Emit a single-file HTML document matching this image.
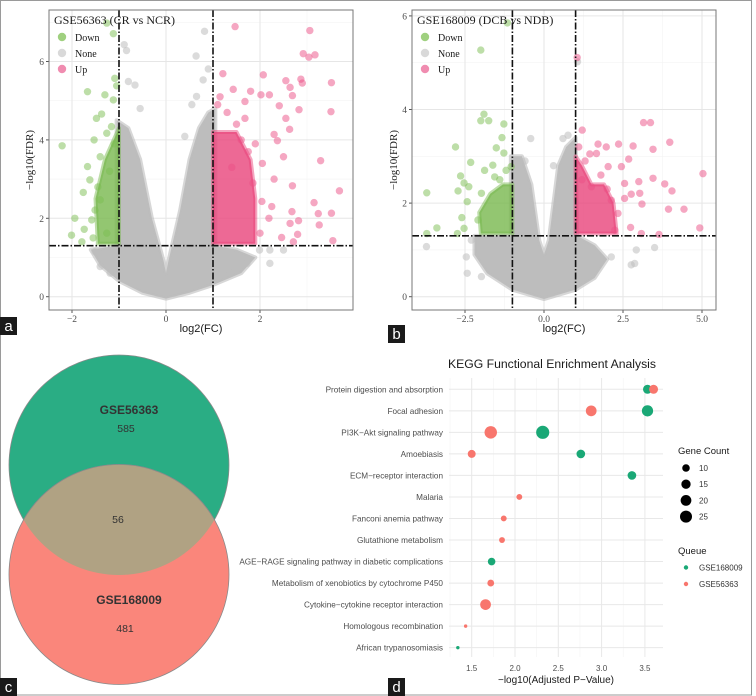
<!DOCTYPE html>
<html><head><meta charset="utf-8"><style>
body{margin:0;background:#fff;width:756px;height:696px;overflow:hidden}
svg{display:block}
.serif{font-family:"Liberation Serif",serif}
.sans{font-family:"Liberation Sans",sans-serif}
</style></head><body>
<svg id="fig" width="756" height="696" viewBox="0 0 756 696">
<rect x="0.5" y="0.5" width="751" height="694.5" fill="none" stroke="#9a9a9a"/>
</svg>
<script>
// ---------- Panel a data (log2FC, -log10 FDR) ----------
const aUpX=[1.47,3.06,2.92,3.04,3.17,3.52,2.55,2.87,2.9,2.64,2.69,2.07,1.80,2.02,2.2,2.41,2.83,3.51,2.55,2.63,2.3,2.37,2.5,3.29,2.69,3.69,2.3,2.05,3.15,3.24,3.52,3.26,2.68,2.82,2.64,3.55,2.8,2.46,2.71,2.19,2.0,1.68,1.43,1.21,1.68,2.04,2.25,1.1,1.3,1.5,1.6,1.75,1.9,1.15,1.4,1.85];
const aUpY=[6.89,6.79,6.2,6.11,6.17,5.46,5.51,5.55,5.45,5.34,5.13,5.66,5.24,5.15,5.15,4.87,4.77,4.72,4.55,4.27,4.14,3.98,3.57,3.47,2.83,2.70,3.0,3.4,2.4,2.12,2.13,1.83,2.17,1.94,1.87,1.43,1.59,1.51,1.4,2.0,1.62,4.55,5.29,5.69,4.98,2.43,2.3,4.9,4.7,4.4,4.0,3.7,3.9,5.1,3.3,2.9];
const aDownX=[-1.26,-1.12,-1.09,-1.05,-1.67,-1.3,-1.12,-1.48,-1.37,-2.21,-1.53,-1.67,-1.76,-1.94,-2.01,-1.74,-1.79,-1.51,-1.58,-1.62,-1.4,-1.26,-1.16,-1.4,-1.26,-1.1,-1.2,-1.45,-1.55];
const aDownY=[6.98,6.71,5.57,5.38,5.23,5.15,5.02,4.55,4.66,3.85,4.0,3.32,2.66,2.0,1.57,1.72,1.4,2.21,1.96,2.98,3.57,4.17,4.34,2.47,1.62,3.9,3.2,2.8,1.5];
const aNoneX=[-0.89,-0.84,0.82,0.64,0.9,0.79,-0.8,-0.66,0.65,0.4,-1.51,-1.4,2.5,2.21,1.72,1.36,2.21,-1.19,1.99,-0.55,0.55];
const aNoneY=[6.43,6.28,6.77,6.14,5.81,5.53,5.49,5.4,5.11,4.09,1.15,0.77,1.19,0.85,0.85,0.6,1.19,0.6,1.19,4.8,4.9];
const aCloudX=[-1.05,-0.8,-0.55,-0.3,-0.05,0,0.05,0.3,0.5,0.7,0.9,1.05,1.05,1.5,1.9,1.6,1.0,0.5,0,-0.5,-1.0,-1.4,-1.6,-1.05];
const aCloudY=[4.5,4.3,3.5,2.0,0.9,0.6,0.9,2.2,3.5,4.3,4.7,4.8,1.3,1.2,1.0,0.6,0.3,0.1,-0.05,0.1,0.4,0.8,1.2,1.3];
const aUpBlockX=[1.0,1.0,1.9,1.9,1.8,1.5];
const aUpBlockY=[4.2,1.35,1.35,2.5,3.5,4.2];
const aDownBlockX=[-1.0,-1.3,-1.5,-1.45,-1.0];
const aDownBlockY=[4.3,3.5,2.5,1.35,1.35];
const aXTicks=[-2,0,2];
const aYTicks=[0,2,4,6];
// ---------- Panel b data ----------
const bUpX=[1.05,3.15,3.37,1.21,3.98,5.03,3.45,2.36,2.82,2.68,1.71,1.97,1.45,1.66,2.03,2.45,3.45,3.0,2.55,3.82,4.05,3.94,4.43,4.93,3.1,3.03,2.76,2.55,2.74,3.08,3.64,2.34,2.13,2.24,1.5,1.1,1.3,1.8,2.0,1.2];
const bUpY=[5.11,3.72,3.72,3.56,3.3,2.63,3.15,3.26,3.22,2.94,3.26,3.2,3.05,3.06,2.78,2.78,2.53,2.46,2.42,2.41,2.26,1.87,1.87,1.47,1.98,2.21,2.19,2.1,1.48,1.35,1.33,1.78,2.06,1.42,2.35,3.2,2.9,2.6,2.3,2.5];
const bDownX=[-1.16,-2.0,-1.9,-2.0,-1.75,-1.27,-1.33,-1.51,-1.27,-2.8,-2.32,-2.64,-2.53,-3.71,-2.72,-2.43,-2.38,-2.6,-2.53,-3.39,-3.71,-2.74,-1.88,-1.62,-1.04,-1.98,-1.56,-2.09,-1.2,-1.4];
const bDownY=[5.85,5.27,3.9,3.76,3.76,3.69,3.4,3.18,3.07,3.2,2.87,2.58,2.43,2.22,2.26,2.03,2.35,1.69,1.46,1.47,1.35,1.35,2.7,2.81,2.78,2.21,2.56,1.64,2.7,2.5];
const bNoneX=[1.06,-0.42,0.6,0.76,-3.72,-2.46,-2.43,-1.98,3.5,2.92,2.76,2.87,2.13,-2.3,-0.6,0.3];
const bNoneY=[5.02,3.38,3.38,3.45,1.07,0.85,0.5,0.43,1.05,1.0,0.68,0.71,0.85,1.21,2.9,2.8];
const bCloudX=[-1.05,-0.7,-0.4,-0.15,0,0.15,0.45,0.7,1.0,1.05,1.6,2.0,1.6,1.0,0,-1.0,-1.8,-2.2,-2.2,-1.05];
const bCloudY=[3.0,3.0,2.4,1.2,0.9,1.2,2.8,3.2,3.4,1.3,1.1,0.8,0.4,0.15,-0.05,0.15,0.5,0.9,1.3,1.3];
const bUpBlockX=[1.0,1.0,2.3,2.2,1.9,1.5,1.2];
const bUpBlockY=[3.0,1.35,1.35,2.0,2.4,2.4,2.8];
const bDownBlockX=[-1.0,-1.0,-2.0,-2.05,-1.7,-1.3];
const bDownBlockY=[2.4,1.35,1.35,1.8,2.2,2.4];
const bXTicks=[-2.5,0,2.5,5];
const bYTicks=[0,2,4,6];
// ---------- Panel d (KEGG) data ----------
const keggTerms=["Protein digestion and absorption","Focal adhesion","PI3K\u2212Akt signaling pathway","Amoebiasis","ECM\u2212receptor interaction","Malaria","Fanconi anemia pathway","Glutathione metabolism","AGE\u2212RAGE signaling pathway in diabetic complications","Metabolism of xenobiotics by cytochrome P450","Cytokine\u2212cytokine receptor interaction","Homologous recombination","African trypanosomiasis"];
const keggRow=[0,0,1,1,2,2,3,3,4,5,6,7,8,9,10,11,12];
const keggVal=[3.53,3.6,3.53,2.88,2.32,1.72,2.76,1.5,3.35,2.05,1.87,1.85,1.73,1.72,1.66,1.43,1.34];
const keggCount=[14,14,22,20,30,27,13,11,13,6,6,6,10,8,20,2,2];
const keggQueue=["G","P","G","P","G","P","G","P","G","P","P","P","G","P","P","P","G"];
const keggTicks=[1.5,2.0,2.5,3.0,3.5];
const sizeLegend=[10,15,20,25];

const NS="http://www.w3.org/2000/svg";
const svg=document.getElementById('fig');
function mk(tag,attrs,parent){const e=document.createElementNS(NS,tag);for(const k in attrs)e.setAttribute(k,attrs[k]);(parent||svg).appendChild(e);return e;}
function txt(s,attrs,parent){const e=mk('text',attrs,parent);e.textContent=s;return e;}

function volcano(cfg){
  const g=mk('g',{});
  
  
  const sx=v=>cfg.x0+cfg.kx*v, sy=v=>cfg.y0-cfg.ky*v;
  const bg=mk('rect',{x:cfg.L,y:cfg.T,width:cfg.R-cfg.L,height:cfg.B-cfg.T,fill:'#fff'},g);
  
  
  cfg.minorX.forEach(v=>{const l=mk('line',{x1:sx(v),x2:sx(v),y1:cfg.T,y2:cfg.B,stroke:'#f3f3f3','stroke-width':0.6},g);
    
    });
  cfg.minorY.forEach(v=>{const l=mk('line',{x1:cfg.L,x2:cfg.R,y1:sy(v),y2:sy(v),stroke:'#f3f3f3','stroke-width':0.6},g);
    
    });
  cfg.xt.forEach(v=>{const l=mk('line',{x1:sx(v),x2:sx(v),y1:cfg.T,y2:cfg.B,stroke:'#e6e6e6','stroke-width':1},g);
    
    
    const t=mk('line',{x1:sx(v),x2:sx(v),y1:cfg.B,y2:cfg.B+3,stroke:'#555'},g);
    
    
    const lb=txt(String(cfg.dec?v.toFixed(1):v).replace('-','\u2212'),{x:sx(v),y:cfg.B+12,'text-anchor':'middle','font-size':9.5,fill:'#4d4d4d',class:'serif'},g);
    
    });
  cfg.yt.forEach(v=>{const l=mk('line',{x1:cfg.L,x2:cfg.R,y1:sy(v),y2:sy(v),stroke:'#e6e6e6','stroke-width':1},g);
    
    
    const t=mk('line',{x1:cfg.L-3,x2:cfg.L,y1:sy(v),y2:sy(v),stroke:'#555'},g);
    
    
    const lb=txt(String(v),{x:cfg.L-5,y:sy(v)+3.5,'text-anchor':'end','font-size':9.5,fill:'#4d4d4d',class:'serif'},g);
    
    });
  const poly=(xs,ys,fill,op,name)=>{const p=mk('polygon',{points:xs.map((x,i)=>sx(x)+','+sy(ys[i])).join(' '),fill:fill,'fill-opacity':op,stroke:fill,'stroke-opacity':op*0.6,'stroke-width':4,'stroke-linejoin':'round'},g);
    
    };
  poly(cfg.cloudX,cfg.cloudY,'#bdbdbd',1,'none-points-cloud');
  cfg.noneX.forEach((x,i)=>{const c=mk('circle',{cx:sx(x),cy:sy(cfg.noneY[i]),r:3.7,fill:'#bdbdbd','fill-opacity':0.55},g);
    
    });
  poly(cfg.downBX,cfg.downBY,'#78b84e',0.8,'down-points-cluster');
  poly(cfg.upBX,cfg.upBY,'#e8437a',0.8,'up-points-cluster');
  cfg.downX.forEach((x,i)=>{const c=mk('circle',{cx:sx(x),cy:sy(cfg.downY[i]),r:3.7,fill:'#7cbd52','fill-opacity':0.5},g);
    
    });
  cfg.upX.forEach((x,i)=>{const c=mk('circle',{cx:sx(x),cy:sy(cfg.upY[i]),r:3.7,fill:'#ec4f86','fill-opacity':0.5},g);
    
    });
  [-1,1].forEach(v=>{const l=mk('line',{x1:sx(v),x2:sx(v),y1:cfg.T,y2:cfg.B,stroke:'#111','stroke-width':1.6,'stroke-dasharray':'7,2,1.5,2'},g);
    
    });
  const h=mk('line',{x1:cfg.L,x2:cfg.R,y1:sy(1.301),y2:sy(1.301),stroke:'#111','stroke-width':1.6,'stroke-dasharray':'7,2,1.5,2'},g);
  
  
  const fr=mk('rect',{x:cfg.L,y:cfg.T,width:cfg.R-cfg.L,height:cfg.B-cfg.T,fill:'none',stroke:'#777','stroke-width':1},g);
  
  
  const tt=txt(cfg.title,{x:cfg.L+5,y:cfg.T+14,'font-size':12,fill:'#1a1a1a',class:'serif'},g);
  
  
  [['Down','#9fd07f'],['None','#d9d9d9'],['Up','#f08cb0']].forEach((e,i)=>{
    const c=mk('circle',{cx:cfg.L+13,cy:cfg.T+27+i*16,r:4.2,fill:e[1]},g);
    
    
    const t=txt(e[0],{x:cfg.L+26,y:cfg.T+31+i*16,'font-size':10,fill:'#1a1a1a',class:'serif'},g);
    
    });
  const xt=txt('log2(FC)',{x:(cfg.L+cfg.R)/2,y:332,'text-anchor':'middle','font-size':11,fill:'#1a1a1a',class:'sans'},g);
  
  
  const yt=txt('\u2212log10(FDR)',{x:0,y:0,transform:`translate(${cfg.ytx},${(cfg.T+cfg.B)/2}) rotate(-90)`,'text-anchor':'middle','font-size':11,fill:'#1a1a1a',class:'serif'},g);
  
  
}
volcano({name:'volcano-plot-a',L:49,R:353,T:10,B:310,x0:166,kx:47,y0:296.7,ky:39.2,xt:aXTicks,yt:aYTicks,minorX:[-1,1,3],minorY:[1,3,5,7],
  upX:aUpX,upY:aUpY,downX:aDownX,downY:aDownY,noneX:aNoneX,noneY:aNoneY,cloudX:aCloudX,cloudY:aCloudY,upBX:aUpBlockX,upBY:aUpBlockY,downBX:aDownBlockX,downBY:aDownBlockY,
  title:'GSE56363 (CR vs NCR)',ytx:33});
volcano({name:'volcano-plot-b',L:412,R:716,T:10,B:310,x0:544,kx:31.6,y0:296.7,ky:46.8,xt:bXTicks,yt:bYTicks,minorX:[-1.25,1.25,3.75],minorY:[1,3,5],dec:true,
  upX:bUpX,upY:bUpY,downX:bDownX,downY:bDownY,noneX:bNoneX,noneY:bNoneY,cloudX:bCloudX,cloudY:bCloudY,upBX:bUpBlockX,upBY:bUpBlockY,downBX:bDownBlockX,downBY:bDownBlockY,
  title:'GSE168009 (DCB vs NDB)',ytx:397});

// ---------- Venn (panel c) ----------
const vg=mk('g',{});


const cg=mk('circle',{cx:119,cy:465,r:110,fill:'#2aad84',stroke:'#8a8a8a','stroke-width':0.8},vg);


const cp=mk('circle',{cx:119,cy:574.5,r:110,fill:'#fa867b',stroke:'#8a8a8a','stroke-width':0.8},vg);


const cl=mk('clipPath',{id:'clipG'},vg);mk('circle',{cx:119,cy:465,r:110},cl);
const ov=mk('circle',{cx:119,cy:574.5,r:110,fill:'#b0a283',stroke:'#8a8a8a','stroke-width':0.8,'clip-path':'url(#clipG)'},vg);


[['GSE56363',129,414,true,'venn-label-gse56363'],['585',126,432,false,'venn-count-gse56363'],['56',118,523,false,'venn-count-overlap'],['GSE168009',129,604,true,'venn-label-gse168009'],['481',125,632,false,'venn-count-gse168009']].forEach(d=>{
  const t=txt(d[0],{x:d[1],y:d[2],'text-anchor':'middle','font-size':d[3]?12:10.5,'font-weight':d[3]?'bold':'normal',fill:'#333',class:'sans'},vg);
  
  });

// ---------- KEGG dot plot (panel d) ----------
const kg=mk('g',{});


const kx=v=>471.7+86.6*(v-1.5), ky=i=>389.3+i*21.53;
const KL=449,KR=663,KT=378,KB=657;
[1.25,1.75,2.25,2.75,3.25].forEach(v=>{const l=mk('line',{x1:kx(v),x2:kx(v),y1:KT,y2:KB,stroke:'#f4f4f4','stroke-width':0.6},kg);
  
  });
keggTicks.forEach(v=>{const l=mk('line',{x1:kx(v),x2:kx(v),y1:KT,y2:KB,stroke:'#e8e8e8','stroke-width':1},kg);
  
  
  const t=txt(v.toFixed(1),{x:kx(v),y:671,'text-anchor':'middle','font-size':8,fill:'#4d4d4d',class:'sans'},kg);
  
  });
keggTerms.forEach((s,i)=>{const l=mk('line',{x1:KL,x2:KR,y1:ky(i),y2:ky(i),stroke:'#e8e8e8','stroke-width':1},kg);
  
  
  const t=txt(s,{x:443,y:ky(i)+3,'text-anchor':'end','font-size':8.2,fill:'#4d4d4d',class:'sans'},kg);
  
  });
const rad=c=>1.2*Math.sqrt(c);
keggVal.forEach((v,i)=>{const c=mk('circle',{cx:kx(v),cy:ky(keggRow[i]),r:rad(keggCount[i]),fill:keggQueue[i]==='G'?'#1aa876':'#f8766d'},kg);
  
  });
const kt=txt('KEGG Functional Enrichment Analysis',{x:552,y:368,'text-anchor':'middle','font-size':12.2,fill:'#1a1a1a',class:'sans'},kg);


const kxt=txt('\u2212log10(Adjusted P\u2212Value)',{x:556,y:683,'text-anchor':'middle','font-size':10,fill:'#1a1a1a',class:'sans'},kg);


const lg1=txt('Gene Count',{x:678,y:454,'font-size':9.5,fill:'#1a1a1a',class:'sans'},kg);


sizeLegend.forEach((s,i)=>{const c=mk('circle',{cx:686,cy:468+i*16.2,r:rad(s),fill:'#000'},kg);
  
  
  const t=txt(String(s),{x:699,y:471+i*16.2,'font-size':8,fill:'#333',class:'sans'},kg);
  
  });
const lg2=txt('Queue',{x:678,y:554,'font-size':9.5,fill:'#1a1a1a',class:'sans'},kg);


[['GSE168009','#1aa876'],['GSE56363','#f8766d']].forEach((e,i)=>{const c=mk('circle',{cx:686,cy:567.5+i*16.5,r:2.2,fill:e[1]},kg);
  
  
  const t=txt(e[0],{x:699,y:570.5+i*16.5,'font-size':8,fill:'#333',class:'sans'},kg);
  
  });

// ---------- Panel letters ----------
[['a',0,317],['b',388,325],['c',0,678],['d',388,678]].forEach(p=>{
  const r=mk('rect',{x:p[1],y:p[2],width:17,height:18,fill:'#1a1a1a'});
  
  
  const t=txt(p[0],{x:p[1]+8.5,y:p[2]+14,'text-anchor':'middle','font-size':15,fill:'#fff',class:'sans'});
  
  });
</script>
</body></html>
